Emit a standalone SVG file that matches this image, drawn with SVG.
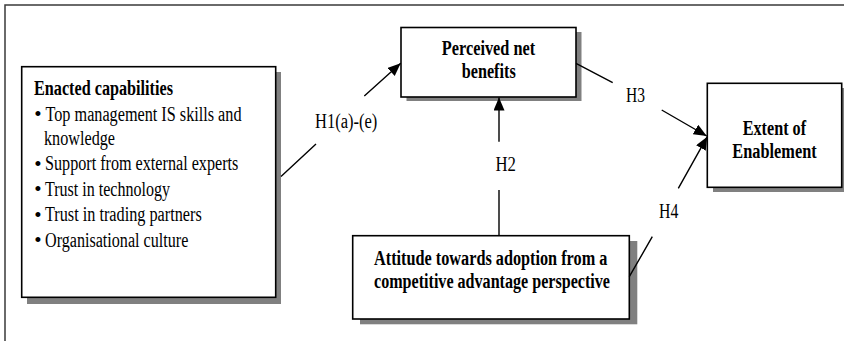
<svg xmlns="http://www.w3.org/2000/svg" width="844" height="341" viewBox="0 0 844 341">
<style>
  .frame{fill:none;stroke:#3a3a3a;stroke-width:1.5}
  .box{fill:#fff;stroke:#000;stroke-width:1.6}
  .shadow{fill:#808080;stroke:none}
  .t{font-family:'Liberation Serif','Times New Roman','DejaVu Serif',serif;font-size:20px;fill:#000}
  .b{font-weight:bold}
  .c{text-anchor:middle}
  .bul{font-family:'Liberation Serif','Times New Roman','DejaVu Serif',serif;font-size:21px;text-anchor:middle;fill:#000}
  .conn{fill:none;stroke:#000;stroke-width:1.4}
</style>
<defs>
  <marker id="ah" markerUnits="userSpaceOnUse" markerWidth="14" markerHeight="12" refX="13" refY="5.5" orient="auto">
    <path d="M0,0 L13,5.5 L0,11 Z" fill="#000"/>
  </marker>
</defs>
<rect width="844" height="341" fill="#fff"/>
<rect class="frame" x="5" y="5" width="860" height="360"/>

<g id="enacted">
  <rect class="shadow" x="27" y="72" width="254" height="232"/>
  <rect class="box" x="21.7" y="66.7" width="254" height="230.6"/>
  <text class="t b" x="34" y="95" textLength="139" lengthAdjust="spacingAndGlyphs">Enacted capabilities</text>
  <text class="bul" x="38" y="121">•</text>
  <text class="t" x="45.5" y="120.5" textLength="196" lengthAdjust="spacingAndGlyphs">Top management IS skills and</text>
  <text class="t" x="44" y="144.5" textLength="71" lengthAdjust="spacingAndGlyphs">knowledge</text>
  <text class="bul" x="38" y="170.5">•</text>
  <text class="t" x="45" y="170" textLength="193.3" lengthAdjust="spacingAndGlyphs">Support from external experts</text>
  <text class="bul" x="38" y="196">•</text>
  <text class="t" x="45" y="195.5" textLength="125" lengthAdjust="spacingAndGlyphs">Trust in technology</text>
  <text class="bul" x="38" y="221.5">•</text>
  <text class="t" x="45" y="221" textLength="156.7" lengthAdjust="spacingAndGlyphs">Trust in trading partners</text>
  <text class="bul" x="38" y="247">•</text>
  <text class="t" x="45" y="246.5" textLength="143.3" lengthAdjust="spacingAndGlyphs">Organisational culture</text>
</g>

<g id="perceived">
  <rect class="shadow" x="406.5" y="32" width="175" height="69"/>
  <rect class="box" x="401" y="27.5" width="175" height="69.5"/>
  <text class="t b c" x="488.5" y="55" textLength="93.3" lengthAdjust="spacingAndGlyphs">Perceived net</text>
  <text class="t b c" x="488.7" y="78.3" textLength="54" lengthAdjust="spacingAndGlyphs">benefits</text>
</g>

<g id="extent">
  <rect class="shadow" x="713" y="88" width="134.4" height="104"/>
  <rect class="box" x="707.3" y="83.3" width="134.4" height="104"/>
  <text class="t b c" x="774.4" y="135" textLength="63.3" lengthAdjust="spacingAndGlyphs">Extent of</text>
  <text class="t b c" x="774.5" y="158.3" textLength="84.3" lengthAdjust="spacingAndGlyphs">Enablement</text>
</g>

<g id="attitude">
  <rect class="shadow" x="360" y="241" width="277.3" height="83.3"/>
  <rect class="box" x="352.7" y="235.7" width="276.6" height="83.3"/>
  <text class="t b c" x="490.7" y="265" textLength="233.3" lengthAdjust="spacingAndGlyphs">Attitude towards adoption from a</text>
  <text class="t b c" x="492" y="288.3" textLength="236" lengthAdjust="spacingAndGlyphs">competitive advantage perspective</text>
</g>

<g id="connectors">
  <path class="conn" d="M281,176.5 L316,144 M364.3,96 L400.7,63.3" marker-end="url(#ah)"/>
  <path class="conn" d="M499,235.7 L499,190 M499,141.7 L499,97.5" marker-end="url(#ah)"/>
  <path class="conn" d="M576,63.3 L612.7,82.7 M661.7,110 L706.7,136" marker-end="url(#ah)"/>
  <path class="conn" d="M629.3,276.7 L652.3,236.7 M678.3,188.3 L707.3,136.7" marker-end="url(#ah)"/>
  <text class="t" x="315" y="128.3" textLength="62.3" lengthAdjust="spacingAndGlyphs">H1(a)-(e)</text>
  <text class="t" x="495.5" y="171" textLength="20.5" lengthAdjust="spacingAndGlyphs">H2</text>
  <text class="t" x="626" y="101.7" textLength="19" lengthAdjust="spacingAndGlyphs">H3</text>
  <text class="t" x="659" y="218.3" textLength="19.3" lengthAdjust="spacingAndGlyphs">H4</text>
</g>
</svg>
